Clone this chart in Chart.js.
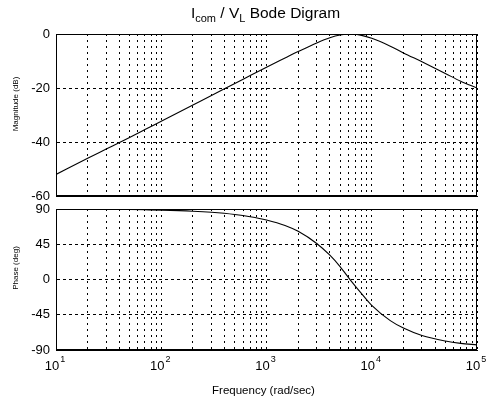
<!DOCTYPE html>
<html>
<head>
<meta charset="utf-8">
<title>Icom / VL Bode Digram</title>
<script src="https://cdn.jsdelivr.net/npm/chart.js@4/dist/chart.umd.min.js"></script>
<style>
  html, body { margin: 0; padding: 0; background: #fff; }
  #wrap { position: relative; width: 488px; height: 401px; }
  #wrap canvas { position: absolute; left: 0; top: 0; }
</style>
</head>
<body>
<div id="wrap">
  <canvas id="mag" width="488" height="401"></canvas>
  <canvas id="phase" width="488" height="401"></canvas>
</div>
<script>
// Frequency points (rad/sec)
const freq = [10, 20, 30, 50, 70, 100, 200, 300, 500, 700, 1000, 1500, 2000,
              3000, 4000, 5000, 6300, 8000, 10000, 15000, 20000, 30000, 50000, 70000, 100000];
// Magnitude (dB)
const magnitudeDb = [-52, -46, -42.6, -38.3, -35.4, -32.3, -26.3, -22.8, -18.3, -15.4, -12.3, -8.9, -6.5,
                     -3.3, -1.4, -0.4, 0, -0.5, -1.6, -4.5, -7.0, -10.3, -14.6, -17.5, -20];
// Phase (deg)
const phaseDeg = [89.8, 89.7, 89.6, 89.3, 89.0, 88.6, 87.2, 85.8, 83, 80.2, 76, 69, 61.5,
                  46, 31, 16.5, -1, -18, -33, -52.5, -62, -71.5, -78.5, -81.5, -83.5];
// Axis ticks
const decadeExponents = [1, 2, 3, 4, 5];
const magTicks = [-60, -40, -20, 0];
const phaseTicks = [-90, -45, 0, 45, 90];

const FONT = '"Liberation Sans", Arial, Helvetica, sans-serif';

// log grid: 1..9 x 10^n across the decades
function logGridTicks(scale) {
  const ticks = [];
  for (let i = 0; i < decadeExponents.length; i++) {
    const base = Math.pow(10, decadeExponents[i]);
    if (i === decadeExponents.length - 1) { ticks.push({ value: base }); break; }
    for (let m = 1; m <= 9; m++) ticks.push({ value: m * base });
  }
  scale.ticks = ticks;
}

const boxPlugin = {
  id: 'axesBox',
  afterDraw(chart) {
    const { ctx, chartArea: a } = chart;
    ctx.save();
    ctx.strokeStyle = '#000';
    ctx.lineWidth = 1;
    ctx.strokeRect(Math.round(a.left) + 0.5, Math.round(a.top) + 0.5,
                   Math.round(a.right - a.left) - 1, Math.round(a.bottom - a.top) - 1);
    ctx.restore();
  }
};

function yTitle(text, cy) {
  return {
    id: 'yTitle_' + text.replace(/\W/g, ''),
    afterDraw(chart) {
      const ctx = chart.ctx;
      ctx.save();
      ctx.translate(16, cy);
      ctx.rotate(-Math.PI / 2);
      ctx.font = '8px ' + FONT;
      ctx.fillStyle = '#000';
      ctx.textAlign = 'center';
      ctx.textBaseline = 'middle';
      ctx.fillText(text, 0, 0);
      ctx.restore();
    }
  };
}

const titlePlugin = {
  id: 'bodeTitle',
  afterDraw(chart) {
    const ctx = chart.ctx;
    const parts = [
      { t: 'I', size: 15.5, dy: 0 },
      { t: 'com', size: 11, dy: 4 },
      { t: ' / V', size: 15.5, dy: 0 },
      { t: 'L', size: 11, dy: 4 },
      { t: ' Bode Digram', size: 15.5, dy: 0 }
    ];
    ctx.save();
    ctx.fillStyle = '#000';
    ctx.textBaseline = 'alphabetic';
    ctx.textAlign = 'left';
    let total = 0;
    parts.forEach(p => { ctx.font = p.size + 'px ' + FONT; p.w = ctx.measureText(p.t).width; total += p.w; });
    const cx = (chart.chartArea.left + chart.chartArea.right) / 2 - 1;
    let x = cx - total / 2;
    parts.forEach(p => {
      ctx.font = p.size + 'px ' + FONT;
      ctx.fillText(p.t, x, 18 + p.dy);
      x += p.w;
    });
    ctx.restore();
  }
};

const freqLabelPlugin = {
  id: 'freqLabels',
  afterDraw(chart) {
    const { ctx, chartArea: a } = chart;
    const x = chart.scales.x;
    ctx.save();
    ctx.fillStyle = '#000';
    ctx.textAlign = 'left';
    ctx.textBaseline = 'alphabetic';
    decadeExponents.forEach(e => {
      const px = x.getPixelForValue(Math.pow(10, e));
      ctx.font = '13px ' + FONT;
      const bw = ctx.measureText('10').width;
      ctx.font = '9px ' + FONT;
      const sw = ctx.measureText(String(e)).width;
      const start = px - (bw + sw + 1) / 2 - 1;
      ctx.font = '13px ' + FONT;
      ctx.fillText('10', start, a.bottom + 20);
      ctx.font = '9px ' + FONT;
      ctx.fillText(String(e), start + bw + 1, a.bottom + 12);
    });
    ctx.font = '11.5px ' + FONT;
    ctx.textAlign = 'center';
    ctx.fillText('Frequency (rad/sec)', (a.left + a.right) / 2 - 3, a.bottom + 44);
    ctx.restore();
  }
};

function xScale() {
  return {
    type: 'logarithmic',
    min: 10,
    max: 100000,
    afterBuildTicks: logGridTicks,
    afterFit(s) { s.height = 0; },
    ticks: { display: false, autoSkip: false },
    grid: { color: '#000', lineWidth: 1, drawTicks: false },
    border: { display: true, color: '#000', dash: [2, 4] }
  };
}

function yScale(min, max, tickValues) {
  return {
    min, max,
    afterBuildTicks(s) { s.ticks = tickValues.map(v => ({ value: v })); },
    afterFit(s) { s.width = 56; },
    ticks: { color: '#000', font: { family: FONT, size: 13 }, padding: 6 },
    grid: { color: '#000', lineWidth: 1, drawTicks: false },
    border: { display: true, color: '#000', dash: [3, 3] }
  };
}

function lineOptions(top, bottom, yMin, yMax, yTicks) {
  return {
    responsive: false,
    animation: false,
    devicePixelRatio: 1,
    layout: { padding: { left: 0, right: 11, top: top, bottom: 401 - bottom } },
    plugins: { legend: { display: false }, tooltip: { enabled: false } },
    elements: { point: { radius: 0 } },
    scales: { x: xScale(), y: yScale(yMin, yMax, yTicks) }
  };
}

new Chart(document.getElementById('mag'), {
  type: 'line',
  data: {
    datasets: [{
      data: freq.map((f, i) => ({ x: f, y: magnitudeDb[i] })),
      borderColor: '#000', borderWidth: 1.1, cubicInterpolationMode: 'monotone', fill: false
    }]
  },
  options: lineOptions(34, 196, -60, 0, magTicks),
  plugins: [boxPlugin, titlePlugin, yTitle('Magnitude (dB)', 104)]
});

new Chart(document.getElementById('phase'), {
  type: 'line',
  data: {
    datasets: [{
      data: freq.map((f, i) => ({ x: f, y: phaseDeg[i] })),
      borderColor: '#000', borderWidth: 1.1, cubicInterpolationMode: 'monotone', fill: false
    }]
  },
  options: lineOptions(209, 350, -90, 90, phaseTicks),
  plugins: [boxPlugin, freqLabelPlugin, yTitle('Phase (deg)', 268)]
});
</script>
</body>
</html>
